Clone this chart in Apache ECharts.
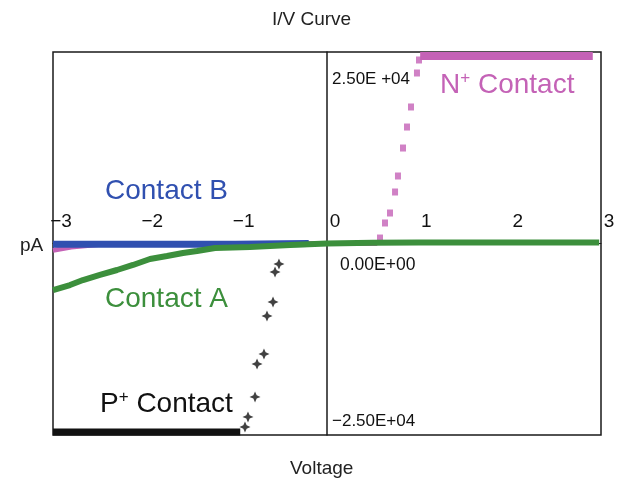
<!DOCTYPE html>
<html>
<head>
<meta charset="utf-8">
<script src="https://cdn.jsdelivr.net/npm/echarts@6/dist/echarts.min.js"></script>
<style>
  html, body { margin: 0; padding: 0; background: #fff; }
  #chart { width: 623px; height: 484px; }
</style>
</head>
<body>
<div id="chart"></div>
<script>
  // I/V curve: current (pA) vs voltage for four contacts
  const FONT = "Liberation Sans, Arial, sans-serif";
  const BLUE = "#3050b0";
  const GREEN = "#3c8f3c";
  const MAGENTA = "#c462b6";
  const BLACK = "#111111";

  const xTicks = [-3, -2, -1, 0, 1, 2, 3];
  const yTicks = [-25000, 0, 25000];
  const yTickLabels = ["\u22122.50E+04", "0.00E+00", "2.50E +04"];

  // Contact B: flat at zero
  const contactB = [[-3, -100], [-2, -100], [-1, -100], [-0.2, 0]];

  // Contact A: slow leakage curve on the negative side
  const contactA = [
    [-3, -6800], [-2.814, -6070], [-2.672, -5340], [-2.486, -4605], [-2.299, -3875],
    [-2.124, -3140], [-1.938, -2265], [-1.752, -1830], [-1.577, -1390], [-1.423, -1100],
    [-1.226, -660], [-0.843, -510], [-0.405, -220], [0, 0],
    [0.5, 100], [1, 150], [2, 150], [2.98, 150],
  ];

  // N+ contact: near zero, steep rise between 0.58 and 1 V, then saturated
  const nLow = [[-3, -1000], [-2.8, -500], [-2.5, -150], [-2, 0], [0, 0], [0.55, 0]];
  const nRise = [
    [0.58, 800], [0.635, 3000], [0.69, 4460], [0.745, 7530], [0.777, 9870],
    [0.832, 13960], [0.876, 17030], [0.92, 19960], [0.985, 24930], [1.007, 26830],
  ];
  const nFlat = [[1.02, 27415], [2.91, 27415]];

  // P+ contact: saturated negative, steep rise between -0.9 and -0.5 V
  const pFlat = [[-3, -27560], [-0.95, -27560]];
  const pRise = [
    [-0.898, -26830], [-0.865, -25360], [-0.788, -22440], [-0.766, -17620],
    [-0.69, -16160], [-0.657, -10600], [-0.591, -8553], [-0.569, -4167], [-0.526, -2997],
  ];

  const STAR = "path://M0,-10 L3,-3 L10,0 L3,3 L0,10 L-3,3 L-10,0 L-3,-3 Z";

  function label(text, left, top, color, size) {
    return {
      text, left, top, padding: 0,
      textStyle: { fontFamily: FONT, fontWeight: "normal", fontSize: size, color },
    };
  }
  function supLabel(main, rest, left, top, color) {
    return {
      text: "{n|" + main + "}{s|+}{n|" + rest + "}", left, top, padding: 0,
      textStyle: {
        fontFamily: FONT, fontWeight: "normal", color,
        rich: {
          n: { fontFamily: FONT, fontWeight: "normal", fontSize: 28, color },
          s: {
            fontFamily: FONT, fontWeight: "normal", fontSize: 17, color,
            verticalAlign: "top", padding: [0, 0, 13, 0],
          },
        },
      },
    };
  }

  // grid geometry: plot box 53..601 x 52..435, zero lines at x=327, y=243.5
  const inst = echarts.init(document.getElementById("chart"), null, { renderer: "canvas" });
  inst.setOption({
    animation: false,
    backgroundColor: "#ffffff",
    title: [
      label("I/V Curve", 272, 10, "#222", 19),
      label("Voltage", 290, 459, "#222", 19),
      label("pA", 20, 236, "#222", 19),
      label("Contact B", 105, 177, BLUE, 28),
      label("Contact A", 105, 285, GREEN, 28),
      supLabel("N", " Contact", 440, 70, MAGENTA),
      supLabel("P", " Contact", 100, 389, BLACK),
    ],
    grid: {
      left: 53, right: 22, top: 52, bottom: 49,
      show: true, borderColor: "#1a1a1a", borderWidth: 1.5,
    },
    xAxis: {
      type: "value", min: -3, max: 3, interval: 1,
      position: "bottom", offset: -191.5,
      axisLine: { onZero: false, lineStyle: { color: "#1a1a1a", width: 1 } },
      axisTick: { show: false },
      splitLine: { show: false },
      axisLabel: {
        inside: true, margin: 12, fontSize: 19, fontFamily: FONT, color: "#111",
        padding: [0, 0, 0, 16], showMinLabel: true, showMaxLabel: true,
        formatter: (v) => (xTicks.includes(v) ? String(v).replace("-", "\u2212") : ""),
      },
    },
    yAxis: {
      type: "value", min: -28000, max: 28000,
      position: "left", offset: -274,
      axisLine: { onZero: false, lineStyle: { color: "#1a1a1a", width: 1.5 } },
      axisTick: { show: false },
      splitLine: { show: false },
      axisLabel: {
        inside: true, margin: 5, fontSize: 17, fontFamily: FONT, color: "#111",
        customValues: yTicks,
        formatter: (v) => {
          const i = yTicks.indexOf(v);
          if (i < 0) return "";
          if (v === 0) return "{z|" + yTickLabels[i] + "}";
          if (v > 0) return "{p|" + yTickLabels[i] + "}";
          return "{m|" + yTickLabels[i] + "}";
        },
        rich: {
          z: { fontFamily: FONT, fontSize: 17.5, color: "#111", padding: [44, 0, 0, 8] },
          p: { fontFamily: FONT, fontSize: 17, color: "#111", padding: [14, 0, 0, 0] },
          m: { fontFamily: FONT, fontSize: 17, color: "#111", padding: [14, 0, 0, 0] },
        },
      },
    },
    series: [
      {
        name: "N+ Contact", type: "line", data: nLow, showSymbol: false, z: 2,
        lineStyle: { color: MAGENTA, width: 5 },
      },
      {
        name: "N+ Contact", type: "scatter", data: nRise, z: 2,
        symbol: "rect", symbolSize: [6, 7], itemStyle: { color: MAGENTA },
      },
      {
        name: "N+ Contact", type: "line", data: nFlat, showSymbol: false, z: 2,
        lineStyle: { color: MAGENTA, width: 8 },
      },
      {
        name: "Contact B", type: "line", data: contactB, showSymbol: false, z: 3,
        lineStyle: { color: BLUE, width: 7 },
      },
      {
        name: "Contact A", type: "line", data: contactA, showSymbol: false, z: 4,
        lineStyle: { color: GREEN, width: 6 },
      },
      {
        name: "P+ Contact", type: "line", data: pFlat, showSymbol: false, z: 5,
        lineStyle: { color: BLACK, width: 7 },
      },
      {
        name: "P+ Contact", type: "scatter", data: pRise, z: 5,
        symbol: STAR, symbolSize: 11, itemStyle: { color: BLACK },
      },
    ],
  });
</script>
</body>
</html>
